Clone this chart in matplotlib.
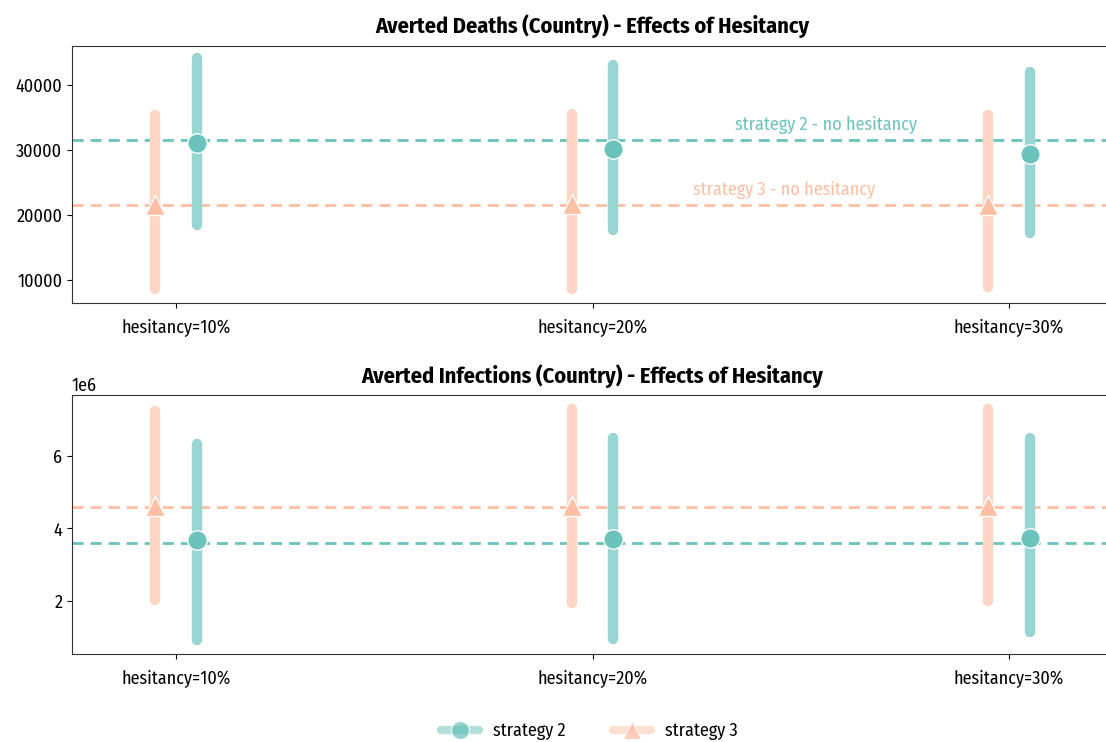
import matplotlib.pyplot as plt
import numpy as np
from matplotlib.lines import Line2D

plt.rcParams['font.family'] = ['Fira Sans Condensed', 'DejaVu Sans']

categories = ["hesitancy=10%", "hesitancy=20%", "hesitancy=30%"]

# averted deaths
deaths_s2 = [31100, 30150, 29400]
deaths_s2_lo = [18450, 17650, 17200]
deaths_s2_hi = [44100, 43100, 42000]
deaths_s3 = [21500, 21700, 21500]
deaths_s3_lo = [8600, 8550, 8900]
deaths_s3_hi = [35400, 35550, 35400]
deaths_s2_nohes = 31500
deaths_s3_nohes = 21500

# averted infections
inf_s2 = [3.67e6, 3.72e6, 3.75e6]
inf_s2_lo = [0.93e6, 0.96e6, 1.14e6]
inf_s2_hi = [6.33e6, 6.50e6, 6.50e6]
inf_s3 = [4.61e6, 4.61e6, 4.61e6]
inf_s3_lo = [2.03e6, 1.95e6, 1.99e6]
inf_s3_hi = [7.23e6, 7.29e6, 7.29e6]
inf_s2_nohes = 3.59e6
inf_s3_nohes = 4.6e6

teal = "#6cc3bc"
teal_bar = "#9ad6d1"
peach = "#ffbfa3"
peach_bar = "#ffd5c3"

W, H = 1106, 742
fig = plt.figure(figsize=(W / 100, H / 100), dpi=100)
x0 = 72 / W
aw = (1113 - 72) / W
ax1 = fig.add_axes([x0, 1 - 303 / H, aw, (303 - 46) / H])
ax2 = fig.add_axes([x0, 1 - 654 / H, aw, (654 - 395) / H])

x = np.arange(len(categories))
off = 0.05


def draw(ax, s2, s2lo, s2hi, s3, s3lo, s3hi, h2, h3):
    ax.axhline(h2, color=teal, ls="--", lw=2, dashes=(4, 2.5), zorder=1)
    ax.axhline(h3, color=peach, ls="--", lw=2, dashes=(4, 2.5), zorder=1)
    for xi, lo, hi in zip(x - off, s3lo, s3hi):
        ax.plot([xi, xi], [lo, hi], color=peach_bar, lw=7.5,
                solid_capstyle="round", zorder=2)
    for xi, lo, hi in zip(x + off, s2lo, s2hi):
        ax.plot([xi, xi], [lo, hi], color=teal_bar, lw=7.5,
                solid_capstyle="round", zorder=2)
    ax.plot(x - off, s3, ls="none", marker="^", ms=14, color=peach,
            mec="white", mew=1, zorder=3)
    ax.plot(x + off, s2, ls="none", marker="o", ms=14, color=teal,
            mec="white", mew=1, zorder=3)
    ax.set_xlim(-0.25, 2.25)
    ax.set_xticks(x)
    ax.set_xticklabels(categories, fontsize=13)
    ax.tick_params(axis="x", pad=7)
    ax.tick_params(axis="y", labelsize=13)
    for s in ax.spines.values():
        s.set_color("#333333")


draw(ax1, deaths_s2, deaths_s2_lo, deaths_s2_hi, deaths_s3, deaths_s3_lo,
     deaths_s3_hi, deaths_s2_nohes, deaths_s3_nohes)
ax1.set_ylim(6450, 46000)
ax1.set_yticks([10000, 20000, 30000, 40000])
ax1.set_title("Averted Deaths (Country) - Effects of Hesitancy",
              fontsize=16, fontweight="bold", pad=9)
ax1.text(1.56, deaths_s2_nohes + 1000, "strategy 2 - no hesitancy", color=teal,
         fontsize=13, ha="center", va="bottom")
ax1.text(1.46, deaths_s3_nohes + 1000, "strategy 3 - no hesitancy", color=peach,
         fontsize=13, ha="center", va="bottom")

draw(ax2, inf_s2, inf_s2_lo, inf_s2_hi, inf_s3, inf_s3_lo, inf_s3_hi,
     inf_s2_nohes, inf_s3_nohes)
ax2.set_ylim(0.54e6, 7.68e6)
ax2.set_yticks([2e6, 4e6, 6e6])
ax2.yaxis.get_offset_text().set_fontsize(13)
ax2.set_title("Averted Infections (Country) - Effects of Hesitancy",
              fontsize=16, fontweight="bold", pad=9)

# legend
h2 = Line2D([], [], color=teal_bar, lw=6, marker="o", ms=13, mfc=teal,
            mec="white", solid_capstyle="round", alpha=0.75)
h3 = Line2D([], [], color=peach_bar, lw=6, marker="^", ms=13, mfc=peach,
            mec="white", solid_capstyle="round", alpha=0.75)
fig.legend([h2, h3], ["strategy 2", "strategy 3"], loc="center",
           bbox_to_anchor=(0.533, 1 - 731 / H), ncol=2, frameon=False,
           fontsize=13, handlelength=2.1, columnspacing=2.6)

fig.savefig("out.png", dpi=100)
